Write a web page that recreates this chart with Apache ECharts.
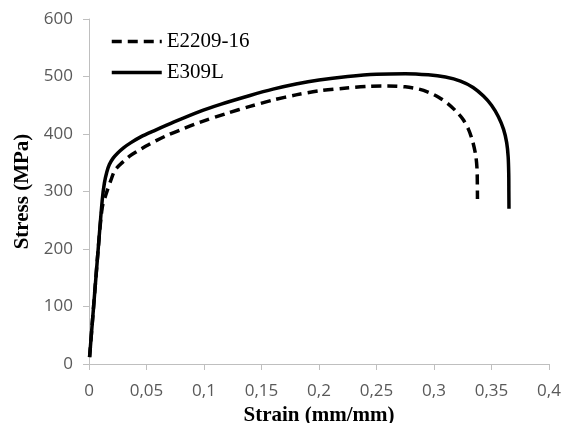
<!DOCTYPE html>
<html>
<head>
<meta charset="utf-8">
<script src="https://cdn.jsdelivr.net/npm/echarts@6/dist/echarts.min.js"></script>
<style>html,body{margin:0;padding:0;background:#fff}#c{width:573px;height:423px}</style>
</head>
<body>
<div id="c"></div>
<script>
var seriesNames = ['E2209-16', 'E309L'];
var xTicks = [0, 0.05, 0.1, 0.15, 0.2, 0.25, 0.3, 0.35, 0.4];
var yTicks = [0, 100, 200, 300, 400, 500, 600];

var strainE2209 = [0.0005, 0.004, 0.008, 0.0115, 0.0151, 0.0191, 0.022, 0.0255, 0.0293, 0.035, 0.042, 0.0496, 0.058, 0.0684, 0.083, 0.096, 0.12, 0.14, 0.16, 0.18, 0.2, 0.224, 0.244, 0.26, 0.275, 0.287, 0.296, 0.304, 0.312, 0.319, 0.325, 0.33, 0.3335, 0.3362, 0.3374, 0.3377, 0.3378];
var stressE2209 = [12, 100, 200, 272, 297, 320, 335, 344, 351, 361, 370, 379, 388, 398, 410, 420, 436, 448, 459, 468, 475, 480, 483, 483.5, 482, 478, 472, 464, 453, 440, 426, 408, 388, 364, 340, 310, 287];

var strainE309 = [0.0005, 0.004, 0.008, 0.0115, 0.0134, 0.0155, 0.0177, 0.021, 0.025, 0.03, 0.0365, 0.045, 0.057, 0.074, 0.096, 0.115, 0.14, 0.16, 0.18, 0.2, 0.225, 0.25, 0.275, 0.295, 0.31, 0.323, 0.334, 0.343, 0.35, 0.356, 0.3605, 0.3632, 0.3645, 0.365, 0.3651, 0.3652];
var stressE309 = [12, 100, 200, 285, 315, 334, 347, 358, 367, 376, 385, 395, 406, 421, 439, 452, 467, 478, 487, 494, 500, 504, 505, 503, 499, 492, 481, 466, 450, 430, 408, 385, 360, 330, 300, 270];

function zip(xs, ys) { return xs.map(function (x, i) { return [x, ys[i]]; }); }

var chart = echarts.init(document.getElementById('c'));
var axisGray = '#bfbfbf';
var labelGray = '#595959';
chart.setOption({
  animation: false,
  backgroundColor: '#ffffff',
  grid: { left: 89, right: 24, top: 19, bottom: 59, containLabel: false, outerBoundsMode: 'none' },
  legend: {
    orient: 'vertical',
    left: 110,
    top: 31,
    padding: 0,
    itemWidth: 50,
    itemHeight: 14,
    itemGap: 10,
    itemStyle: { opacity: 0 },
    lineStyle: { width: 3.5 },
    data: seriesNames,
    textStyle: { fontFamily: 'Liberation Serif', fontSize: 21, color: '#000', lineHeight: 21 }
  },
  xAxis: {
    type: 'value',
    min: xTicks[0],
    max: xTicks[xTicks.length - 1],
    interval: 0.05,
    name: 'Strain (mm/mm)',
    nameLocation: 'middle',
    nameGap: 35,
    nameTextStyle: { fontFamily: 'Liberation Serif', fontWeight: 'bold', fontSize: 21, color: '#000' },
    axisLine: { show: true, lineStyle: { color: axisGray, width: 1 } },
    axisTick: { show: true, length: 6, inside: false, lineStyle: { color: axisGray } },
    splitLine: { show: false },
    axisLabel: {
      margin: 19,
      fontFamily: 'Open Sans',
      fontSize: 17,
      color: labelGray,
      formatter: function (v) { return String(+v.toFixed(2)).replace('.', ','); }
    }
  },
  yAxis: {
    type: 'value',
    min: yTicks[0],
    max: yTicks[yTicks.length - 1],
    interval: 100,
    name: 'Stress (MPa)',
    nameLocation: 'middle',
    nameGap: 55,
    nameTextStyle: { fontFamily: 'Liberation Serif', fontWeight: 'bold', fontSize: 21, color: '#000' },
    axisLine: { show: true, lineStyle: { color: axisGray, width: 1 } },
    axisTick: { show: true, length: 6, inside: false, lineStyle: { color: axisGray } },
    splitLine: { show: false },
    axisLabel: { margin: 16, fontFamily: 'Open Sans', fontSize: 17, color: labelGray }
  },
  series: [
    {
      name: seriesNames[0],
      type: 'line',
      data: zip(strainE2209, stressE2209),
      showSymbol: false,
      symbol: 'none',
      smooth: 0.3,
      z: 2,
      lineStyle: { color: '#000', width: 3.5, type: [10, 6] },
      itemStyle: { color: '#000' }
    },
    {
      name: seriesNames[1],
      type: 'line',
      data: zip(strainE309, stressE309),
      showSymbol: false,
      symbol: 'none',
      smooth: 0.3,
      z: 3,
      lineStyle: { color: '#000', width: 3.5, type: 'solid' },
      itemStyle: { color: '#000' }
    }
  ]
});
</script>
</body>
</html>
